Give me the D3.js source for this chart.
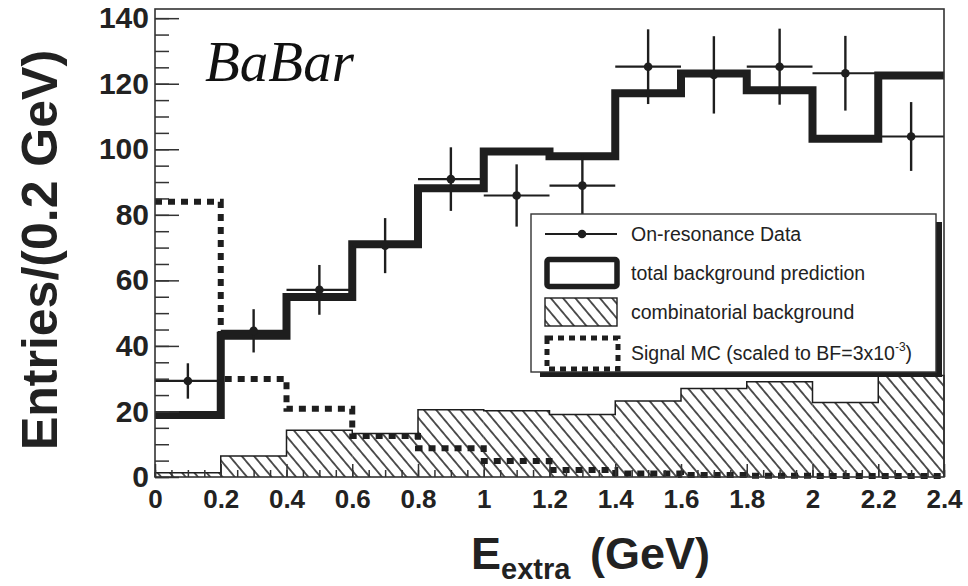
<!DOCTYPE html>
<html>
<head>
<meta charset="utf-8">
<script src="https://cdn.jsdelivr.net/npm/d3@7"></script>
<style>
  body { margin: 0; background: #fff; }
  svg { display: block; font-family: 'Liberation Sans', Arial, Helvetica, sans-serif; }
</style>
</head>
<body>
<div id="chart"></div>
<script>
// bins of E_extra (GeV), lower edges, width 0.2
const binLow = [0, 0.2, 0.4, 0.6, 0.8, 1.0, 1.2, 1.4, 1.6, 1.8, 2.0, 2.2];
const binWidth = 0.2;

// on-resonance data with errors
const dataCounts = [29.3, 44.6, 57.1, 70.6, 90.9, 85.9, 88.9, 125.2, 122.7, 125.2, 123.2, 103.9];
const dataErrors = [5.4, 6.6, 7.6, 8.4, 9.7, 9.5, 9.4, 11.4, 11.8, 11.6, 11.4, 10.5];

// total background prediction
const totalBkg = [18.9, 43.1, 54.9, 71.0, 88.1, 99.3, 97.9, 117.1, 123.1, 118.0, 103.2, 122.5];

// combinatorial background
const combBkg = [1.3, 6.4, 14.3, 13.3, 20.5, 20.2, 19.1, 23.2, 27.0, 29.1, 22.7, 31.0];

// signal MC scaled to BF = 3x10^-3
const signalMC = [84.0, 29.9, 20.8, 12.5, 8.8, 4.9, 2.1, 1.1, 0.6, 0.4, 0.3, 0.3];

const xTicks = [0, 0.2, 0.4, 0.6, 0.8, 1, 1.2, 1.4, 1.6, 1.8, 2, 2.2, 2.4];
const yTicks = [0, 20, 40, 60, 80, 100, 120, 140];

const legendLabels = [
  'On-resonance Data',
  'total background prediction',
  'combinatorial background',
  'Signal MC (scaled to BF=3x10',
];

const margin = { top: 9, right: 24, bottom: 109, left: 155 };
const width = 968 - margin.left - margin.right;
const height = 586 - margin.top - margin.bottom;
const ink = '#1e1e1e';

const x = d3.scaleLinear()
    .domain([0, 2.4])
    .range([0, width]);

const y = d3.scaleLinear()
    .domain([0, 142.8])
    .range([height, 0]);

const svg = d3.select('#chart').append('svg')
    .attr('width', 968)
    .attr('height', 586);

const defs = svg.append('defs');
defs.append('pattern')
    .attr('id', 'hatch')
    .attr('patternUnits', 'userSpaceOnUse')
    .attr('width', 9.4)
    .attr('height', 9.4)
    .attr('patternTransform', 'rotate(-40)')
  .append('line')
    .attr('x1', 4.7).attr('y1', 0)
    .attr('x2', 4.7).attr('y2', 9.4)
    .attr('stroke', ink)
    .attr('stroke-width', 1.5);

const g = svg.append('g')
    .attr('transform', `translate(${margin.left}, ${margin.top})`);

// step outline through bin edges
const stepPoints = (values) => {
  const pts = [];
  values.forEach((v, i) => {
    pts.push([x(binLow[i]), y(v)], [x(binLow[i] + binWidth), y(v)]);
  });
  return pts;
};
const line = d3.line();

// combinatorial background, hatched
g.selectAll('.comb')
    .data(combBkg)
  .enter()
    .append('rect')
    .attr('class', 'comb')
    .attr('x', (d, i) => x(binLow[i]))
    .attr('y', (d) => y(d))
    .attr('width', (d, i) => x(binLow[i] + binWidth) - x(binLow[i]))
    .attr('height', (d) => y(0) - y(d))
    .attr('fill', 'url(#hatch)');

g.append('path')
    .attr('d', line([[x(0), y(0)], ...stepPoints(combBkg), [x(2.4), y(0)]]))
    .attr('fill', 'none')
    .attr('stroke', ink)
    .attr('stroke-width', 1.5);

// signal MC, thick dotted
g.append('path')
    .attr('d', line(stepPoints(signalMC)))
    .attr('fill', 'none')
    .attr('stroke', ink)
    .attr('stroke-width', 6)
    .attr('stroke-dasharray', '7,6');

// total background, thick solid
g.append('path')
    .attr('d', line(stepPoints(totalBkg)))
    .attr('fill', 'none')
    .attr('stroke', ink)
    .attr('stroke-width', 8)
    .attr('stroke-linejoin', 'miter');

// data points
const pts = g.selectAll('.pt')
    .data(dataCounts)
  .enter()
    .append('g')
    .attr('class', 'pt');

pts.append('line')
    .attr('x1', (d, i) => x(binLow[i]))
    .attr('x2', (d, i) => x(binLow[i] + binWidth))
    .attr('y1', (d) => y(d))
    .attr('y2', (d) => y(d))
    .attr('stroke', ink)
    .attr('stroke-width', 2.2);

pts.append('line')
    .attr('x1', (d, i) => x(binLow[i] + binWidth / 2))
    .attr('x2', (d, i) => x(binLow[i] + binWidth / 2))
    .attr('y1', (d, i) => y(d + dataErrors[i]))
    .attr('y2', (d, i) => y(d - dataErrors[i]))
    .attr('stroke', ink)
    .attr('stroke-width', 2.4);

pts.append('circle')
    .attr('cx', (d, i) => x(binLow[i] + binWidth / 2))
    .attr('cy', (d) => y(d))
    .attr('r', 4.3)
    .attr('fill', ink);

// axes: minor and major ticks pointing inward
const styleAxis = (sel) => {
  sel.select('.domain').remove();
  sel.selectAll('line').attr('stroke', '#333').attr('stroke-width', 1.5);
};

g.append('g')
    .call(d3.axisLeft(y).tickValues(d3.range(0, 142, 5)).tickSize(-14).tickFormat(''))
    .call(styleAxis);

g.append('g')
    .call(d3.axisLeft(y).tickValues(yTicks).tickSize(-24).tickPadding(6))
    .call(styleAxis)
    .selectAll('text')
    .attr('font-size', 30)
    .attr('font-weight', 'bold')
    .attr('font-family', "'Liberation Sans', Arial, sans-serif")
    .attr('fill', '#222');

g.append('g')
    .attr('transform', `translate(0, ${height})`)
    .call(d3.axisBottom(x).tickValues(d3.range(0, 2.401, 0.05)).tickSize(-7).tickFormat(''))
    .call(styleAxis);

g.append('g')
    .attr('transform', `translate(0, ${height})`)
    .call(d3.axisBottom(x).tickValues(xTicks).tickSize(-13).tickPadding(13)
      .tickFormat(d3.format('~g')))
    .call(styleAxis)
    .selectAll('text')
    .attr('font-size', 26)
    .attr('font-weight', 'bold')
    .attr('font-family', "'Liberation Sans', Arial, sans-serif")
    .attr('fill', '#222');

// frame
g.append('rect')
    .attr('width', width)
    .attr('height', height)
    .attr('fill', 'none')
    .attr('stroke', '#333')
    .attr('stroke-width', 1.6);

// BaBar label
svg.append('text')
    .attr('x', 205)
    .attr('y', 81)
    .attr('font-family', "'Liberation Serif', 'Times New Roman', serif")
    .attr('font-style', 'italic')
    .attr('font-size', 57)
    .attr('fill', '#111')
    .text('BaBar');

// axis titles
svg.append('text')
    .attr('transform', 'translate(57, 250) rotate(-90)')
    .attr('text-anchor', 'middle')
    .attr('font-size', 50)
    .attr('font-weight', 'bold')
    .attr('fill', '#222')
    .text('Entries/(0.2 GeV)');

const xTitle = svg.append('text')
    .attr('x', 471)
    .attr('y', 569)
    .attr('font-size', 45)
    .attr('font-weight', 'bold')
    .attr('fill', '#222');
xTitle.append('tspan').text('E');
xTitle.append('tspan').attr('font-size', 29).attr('dy', 10).text('extra');
xTitle.append('tspan').attr('x', 590).attr('dy', -10).text('(GeV)');

// legend
const legend = svg.append('g');
legend.append('rect')
    .attr('x', 540).attr('y', 222)
    .attr('width', 402).attr('height', 155)
    .attr('fill', ink);
legend.append('rect')
    .attr('x', 531).attr('y', 214)
    .attr('width', 405).attr('height', 158)
    .attr('fill', '#fff')
    .attr('stroke', '#333')
    .attr('stroke-width', 1.4);

const rowY = [234, 273, 312, 353];

legend.append('line')
    .attr('x1', 545).attr('x2', 617)
    .attr('y1', rowY[0]).attr('y2', rowY[0])
    .attr('stroke', ink).attr('stroke-width', 2.2);
legend.append('circle')
    .attr('cx', 582).attr('cy', rowY[0]).attr('r', 4.3)
    .attr('fill', ink);

legend.append('rect')
    .attr('x', 547).attr('y', rowY[1] - 13.5)
    .attr('width', 70).attr('height', 27)
    .attr('rx', 2)
    .attr('fill', '#fff')
    .attr('stroke', ink).attr('stroke-width', 5.5);

legend.append('rect')
    .attr('x', 545).attr('y', rowY[2] - 14)
    .attr('width', 72).attr('height', 28)
    .attr('fill', 'url(#hatch)')
    .attr('stroke', ink).attr('stroke-width', 1.4);

legend.append('rect')
    .attr('x', 547).attr('y', rowY[3] - 15)
    .attr('width', 71).attr('height', 31)
    .attr('fill', '#fff')
    .attr('stroke', ink).attr('stroke-width', 5)
    .attr('stroke-dasharray', '6,5');

legend.selectAll('.lab')
    .data(legendLabels)
  .enter()
    .append('text')
    .attr('class', 'lab')
    .attr('x', 631)
    .attr('y', (d, i) => rowY[i] + 7)
    .attr('font-size', 19.5)
    .attr('fill', '#222')
    .text((d) => d);

// superscript exponent on the signal label
legend.selectAll('.lab').filter((d, i) => i === 3)
  .call((t) => {
    t.append('tspan').attr('font-size', 12).attr('dy', -9).text('-3');
    t.append('tspan').attr('dy', 9).text(')');
  });
</script>
</body>
</html>
